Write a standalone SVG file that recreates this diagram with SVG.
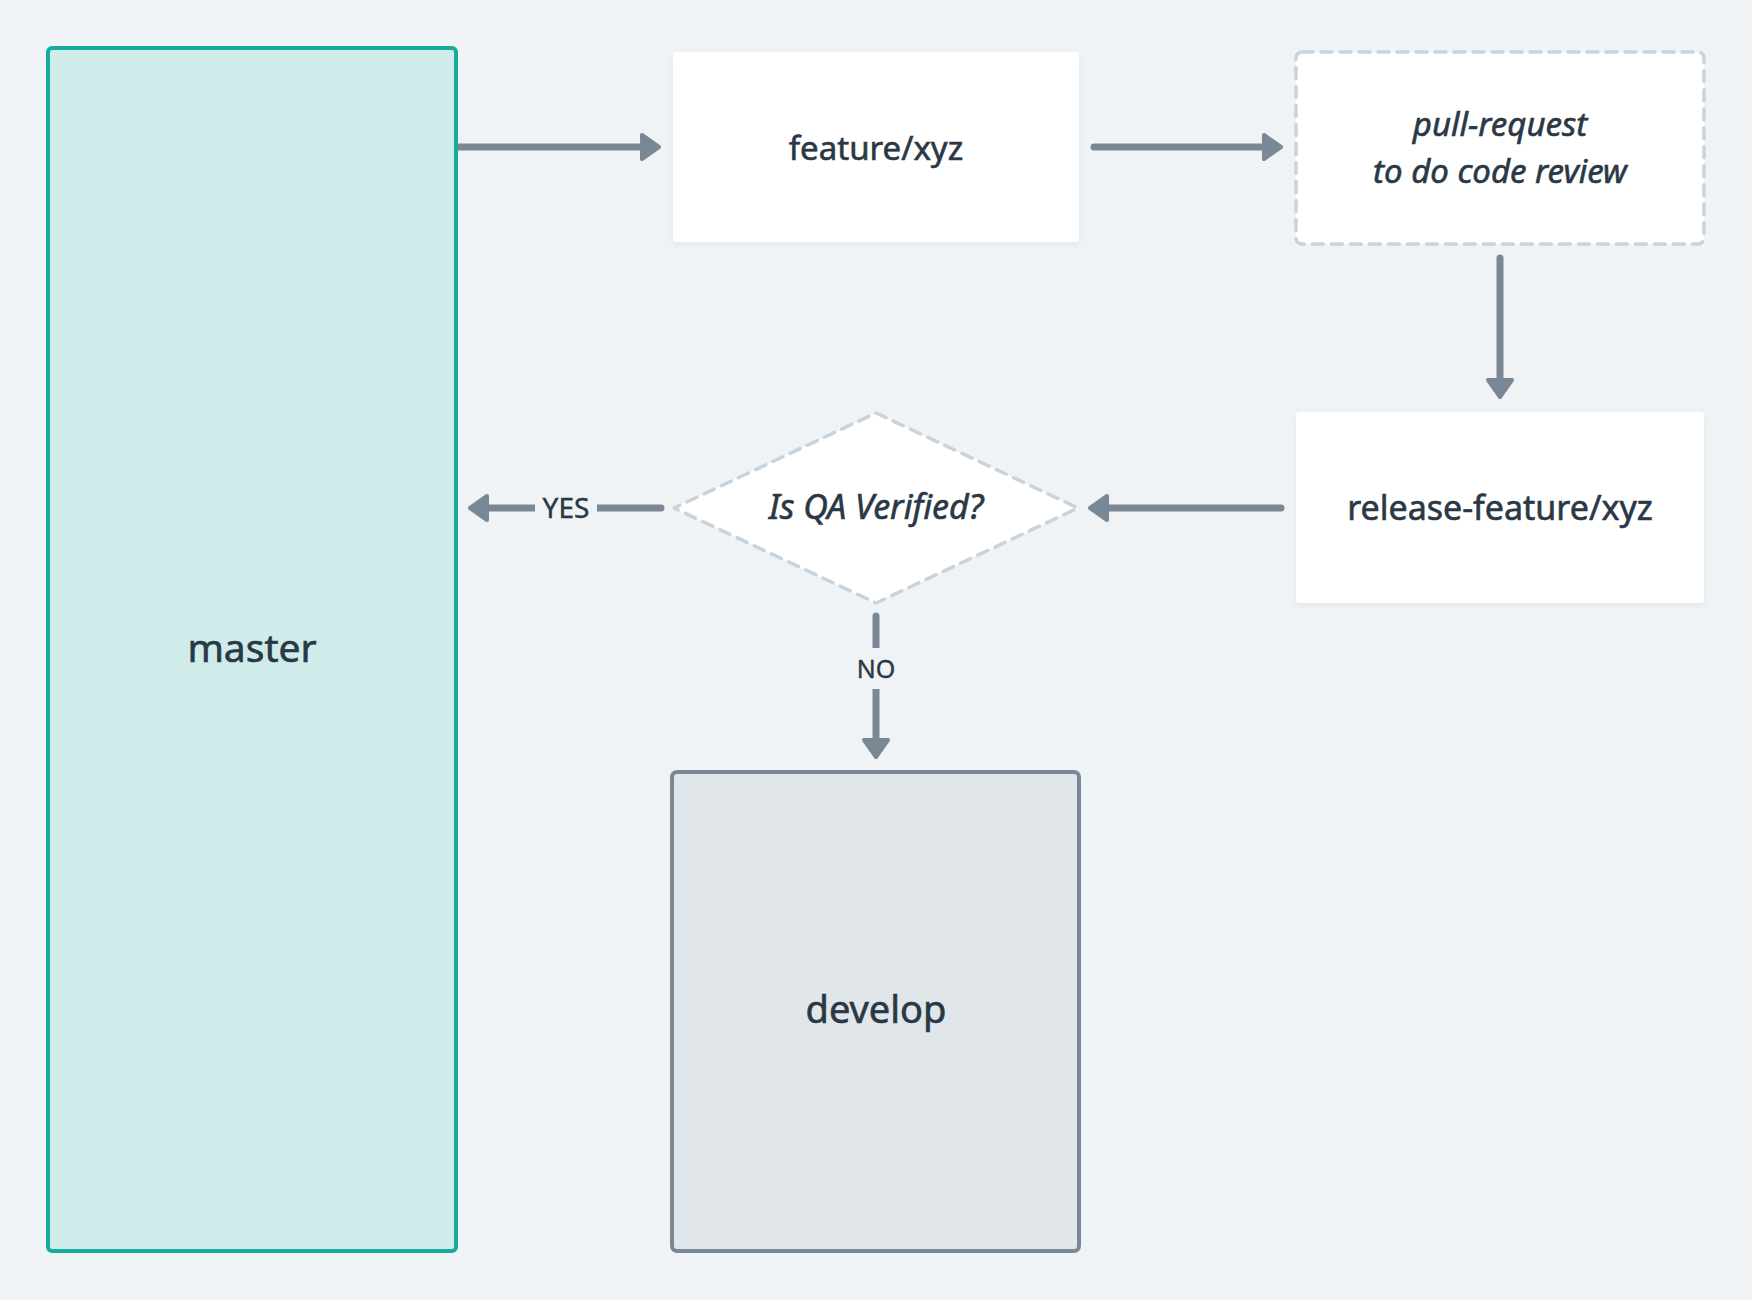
<svg xmlns="http://www.w3.org/2000/svg" width="1752" height="1300" viewBox="0 0 1752 1300">
  <style>
    .lbl { font-family: "Noto Sans", "DejaVu Sans", sans-serif; fill: #2a3845; text-anchor: middle; stroke: #2a3845; stroke-width: 0.6; }
    .it { font-style: italic; }
    .edge { fill: none; stroke: #7a8896; stroke-width: 7; stroke-linecap: round; }
    .card { fill: #ffffff; filter: url(#shadow); }
    .dash { fill: #ffffff; stroke: #c8d3dc; stroke-width: 3.5; stroke-dasharray: 11 8; stroke-linecap: round; }
    .elbl { font-family: "Noto Sans", "DejaVu Sans", sans-serif; fill: #2a3845; text-anchor: middle; stroke: #2a3845; stroke-width: 0.4; }
  </style>
  <defs>
    <filter id="shadow" x="-10%" y="-10%" width="120%" height="130%">
      <feDropShadow dx="0" dy="2" stdDeviation="3" flood-color="#8a9aa8" flood-opacity="0.15"/>
    </filter>
    <marker id="arrow" markerUnits="userSpaceOnUse" viewBox="0 0 24 30" refX="6" refY="15" markerWidth="24" markerHeight="30" orient="auto">
      <path d="M3,3 L20,15 L3,27 Z" fill="#7a8896" stroke="#7a8896" stroke-width="4" stroke-linejoin="round"/>
    </marker>
  </defs>
  <rect x="0" y="0" width="1752" height="1300" fill="#eff3f6"/>

  <g id="connectors">
    <path class="edge" d="M456,147 L645,147" marker-end="url(#arrow)"/>
    <path class="edge" d="M1094,147 L1267,147" marker-end="url(#arrow)"/>
    <path class="edge" d="M1500,258 L1500,383" marker-end="url(#arrow)"/>
    <path class="edge" d="M1281,508 L1104,508" marker-end="url(#arrow)"/>
    <path class="edge" d="M661,508 L484,508" marker-end="url(#arrow)"/>
    <rect x="535" y="490" width="62" height="36" fill="#eff3f6"/>
    <text class="elbl" x="566" y="518" font-size="28">YES</text>
    <path class="edge" d="M876,616 L876,743" marker-end="url(#arrow)"/>
    <rect x="854" y="648" width="44" height="41" fill="#eff3f6"/>
    <text class="elbl" x="876" y="678" font-size="25">NO</text>
  </g>

  <g id="master">
    <rect x="48" y="48" width="408" height="1203" rx="4" fill="#cfecea" stroke="#17ab9a" stroke-width="4"/>
    <text class="lbl" x="252" y="662" font-size="39">master</text>
  </g>

  <g id="feature">
    <rect class="card" x="673" y="52" width="406" height="190" rx="4"/>
    <text class="lbl" x="876" y="160" font-size="33">feature/xyz</text>
  </g>

  <g id="pull-request">
    <rect class="dash" x="1296" y="52" width="408" height="192" rx="6"/>
    <text class="lbl it" x="1500" y="136" font-size="33">pull-request</text>
    <text class="lbl it" x="1500" y="183" font-size="33">to do code review</text>
  </g>

  <g id="release-feature">
    <rect class="card" x="1296" y="412" width="408" height="191" rx="4"/>
    <text class="lbl" x="1500" y="520" font-size="34">release-feature/xyz</text>
  </g>

  <g id="qa-decision">
    <polygon class="dash" points="876,413 1078,508 876,603 674,508" stroke-linejoin="round"/>
    <text class="lbl it" x="876" y="519" font-size="34">Is QA Verified?</text>
  </g>

  <g id="develop">
    <rect x="672" y="772" width="407" height="479" rx="5" fill="#e1e6ea" stroke="#7a8896" stroke-width="4"/>
    <text class="lbl" x="876" y="1023" font-size="38">develop</text>
  </g>
</svg>
